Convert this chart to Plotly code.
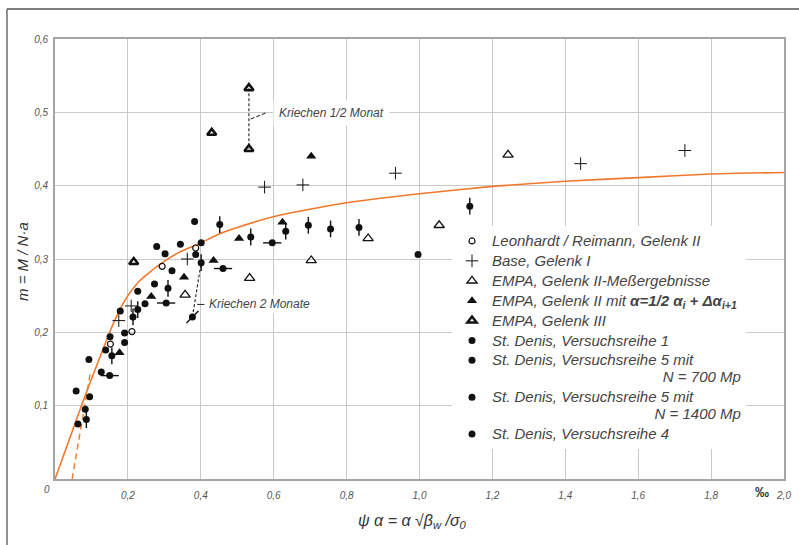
import plotly.graph_objects as go

# ---------------- data ----------------
leon_x = [0.152, 0.211, 0.294, 0.386]
leon_y = [0.184, 0.201, 0.290, 0.315]

base_x = [0.175, 0.209, 0.363, 0.575, 0.680, 0.934, 1.442, 1.728]
base_y = [0.216, 0.236, 0.300, 0.398, 0.401, 0.417, 0.430, 0.448]

empa_open_x = [0.357, 0.534, 0.703, 0.859, 1.054, 1.243]
empa_open_y = [0.251, 0.274, 0.298, 0.328, 0.346, 0.442]

empa_fill_x = [0.177, 0.264, 0.354, 0.435, 0.505, 0.624, 0.703]
empa_fill_y = [0.172, 0.249, 0.275, 0.298, 0.328, 0.350, 0.440]

empa3_x = [0.216, 0.430, 0.532, 0.532]
empa3_y = [0.296, 0.472, 0.533, 0.450]

sd1_x = [0.058, 0.063, 0.083, 0.093, 0.095, 0.127, 0.139, 0.151, 0.179, 0.191,
         0.191, 0.227, 0.247, 0.273, 0.279, 0.302, 0.321, 0.344, 0.383, 0.386,
         0.401, 0.996]
sd1_y = [0.120, 0.075, 0.095, 0.163, 0.112, 0.146, 0.176, 0.194, 0.229, 0.199,
         0.186, 0.256, 0.239, 0.266, 0.317, 0.307, 0.284, 0.320, 0.351, 0.306,
         0.322, 0.306]

sd5a_x = [0.150, 0.305, 0.461, 0.596]          # N = 700 Mp
sd5a_y = [0.141, 0.240, 0.287, 0.322]

sd5b_x = [0.086, 0.156, 0.214, 0.227, 0.310, 0.401, 0.452, 0.537, 0.633, 0.695,
          0.756, 0.834, 1.138]                 # N = 1400 Mp
sd5b_y = [0.081, 0.168, 0.221, 0.231, 0.260, 0.295, 0.347, 0.330, 0.338, 0.346,
          0.341, 0.343, 0.372]

sd4_x = [0.377]
sd4_y = [0.221]

curve_x = [0, 0.04, 0.08, 0.12, 0.16, 0.18, 0.20, 0.23, 0.28, 0.34, 0.40, 0.45,
           0.50, 0.61, 0.79, 1.0, 1.2, 1.4, 1.6, 1.8, 2.0]
curve_y = [0, 0.055, 0.110, 0.162, 0.212, 0.233, 0.250, 0.269, 0.290, 0.309,
           0.322, 0.334, 0.343, 0.359, 0.376, 0.389, 0.399, 0.406, 0.411, 0.416,
           0.418]

dash_x = [0.047, 0.097]
dash_y = [0.0, 0.145]

creep_half_x = [0.532, 0.532]
creep_half_y = [0.533, 0.450]
creep_two_x = [0.377, 0.401]
creep_two_y = [0.221, 0.295]

x_ticks = [0.2, 0.4, 0.6, 0.8, 1.0, 1.2, 1.4, 1.6, 1.8, 2.0]
x_labels = ["0,2", "0,4", "0,6", "0,8", "1,0", "1,2", "1,4", "1,6", "1,8", "2,0"]
y_ticks = [0.1, 0.2, 0.3, 0.4, 0.5, 0.6]
y_labels = ["0,1", "0,2", "0,3", "0,4", "0,5", "0,6"]

# ---------------- styling ----------------
FONT = "Liberation Sans"
INK = "#111111"
ORANGE = "#f0782d"
GRID = "#c9c9c9"
TXT = "#444444"

fig = go.Figure()

fig.add_trace(go.Scatter(x=curve_x, y=curve_y, mode="lines", showlegend=False,
                         line=dict(color=ORANGE, width=1.6, shape="spline", smoothing=0.5),
                         hoverinfo="skip"))
fig.add_trace(go.Scatter(x=dash_x, y=dash_y, mode="lines", showlegend=False,
                         line=dict(color=ORANGE, width=1.4, dash="6px,4px"),
                         hoverinfo="skip"))
fig.add_trace(go.Scatter(x=creep_half_x, y=creep_half_y, mode="lines", showlegend=False,
                         line=dict(color="#333", width=1.2, dash="3px,2px"), hoverinfo="skip"))
fig.add_trace(go.Scatter(x=creep_two_x, y=creep_two_y, mode="lines", showlegend=False,
                         line=dict(color="#333", width=1.2, dash="3px,2px"), hoverinfo="skip"))


def lg(s):
    return '<span style="font-size:15px">' + s + '</span>'


def pts(x, y, name, symbol, size, color=INK, lw=0, lc=INK, show=True, group=None):
    fig.add_trace(go.Scatter(
        x=x, y=y, mode="markers", name=name, showlegend=show,
        legendgroup=group or name,
        marker=dict(symbol=symbol, size=size, color=color,
                    line=dict(width=lw, color=lc))))


NB = "\u00a0"
pts(leon_x, leon_y, lg("Leonhardt / Reimann, Gelenk II"), "circle-open", 6, lw=1.2)
pts(base_x, base_y, lg("Base, Gelenk I"), "cross-thin-open", 9, lw=1.0, lc="#333")
pts(empa_open_x, empa_open_y, lg("EMPA, Gelenk II-Meßergebnisse"), "triangle-up-open", 9, lw=1.3)
pts(empa_fill_x, empa_fill_y,
    lg("EMPA, Gelenk II mit" + NB + "<b>α=1/2 α<sub>i</sub> + Δα<sub>i+1</sub></b>"),
    "triangle-up", 9)
pts(empa3_x, empa3_y, lg("EMPA, Gelenk III"), "triangle-up-open", 8, lw=2.5)
pts(sd1_x, sd1_y, lg("St. Denis, Versuchsreihe 1"), "circle", 7)

name5a = lg("St. Denis, Versuchsreihe 5 mit") + "<br>" + lg(NB * 41 + "N = 700 Mp")
name5b = lg("St. Denis, Versuchsreihe 5 mit") + "<br>" + lg(NB * 39 + "N = 1400 Mp")
pts(sd5a_x, sd5a_y, name5a, "circle", 7, group="5a")
pts(sd5a_x, sd5a_y, "", "line-ew-open", 13, lw=1.4, show=False, group="5a")
pts(sd5b_x, sd5b_y, name5b, "circle", 7, group="5b")
pts(sd5b_x, sd5b_y, "", "line-ns-open", 12, lw=1.4, show=False, group="5b")
pts(sd4_x, sd4_y, lg("St. Denis, Versuchsreihe 4"), "circle", 7, group="4")
pts(sd4_x, sd4_y, "", "line-ne-open", 12, lw=1.4, show=False, group="4")

W, H = 799, 545
ML, MR, MT, MB = 55, 15, 39, 66
PW, PH = W - ML - MR, H - MT - MB


def px(xp):
    return (xp - ML) / PW


def py(yp):
    return (H - MB - yp) / PH


tickfont = dict(family=FONT, size=10, color="#555", style="italic")

fig.update_layout(
    width=W, height=H,
    margin=dict(l=ML, r=MR, t=MT, b=MB),
    paper_bgcolor="white", plot_bgcolor="white",
    font=dict(family=FONT, color=TXT),
    xaxis=dict(range=[0, 2.0], tickvals=x_ticks, ticktext=x_labels, tickfont=tickfont,
               showgrid=True, gridcolor=GRID, gridwidth=1.4, zeroline=False,
               showline=True, linecolor="#a5a5a5", linewidth=1.6, mirror=True,
               ticks="", ticklabelstandoff=6, automargin=False),
    yaxis=dict(range=[0, 0.6], tickvals=y_ticks, ticktext=y_labels, tickfont=tickfont,
               showgrid=True, gridcolor=GRID, gridwidth=1.4, zeroline=False,
               showline=True, linecolor="#a5a5a5", linewidth=1.6, mirror=True,
               ticks="", ticklabelstandoff=3, automargin=False),
    legend=dict(x=px(452), y=py(226), xanchor="left", yanchor="top",
                bgcolor="white", borderwidth=0, valign="top",
                font=dict(family=FONT, size=13, color=TXT, style="italic"),
                tracegroupgap=0, itemclick=False),
    showlegend=True,
)

ann_font = dict(family=FONT, size=12, color=TXT, style="italic")
fig.add_annotation(x=0.598, y=0.499, xref="x", yref="y", text="Kriechen 1/2 Monat",
                   showarrow=False, xanchor="left", yanchor="middle", font=ann_font,
                   bgcolor="white", borderpad=5)
fig.add_annotation(x=0.413, y=0.238, xref="x", yref="y", text="Kriechen 2 Monate",
                   showarrow=False, xanchor="left", yanchor="middle", font=ann_font,
                   bgcolor="white", borderpad=2)
fig.add_shape(type="line", xref="x", yref="y", x0=0.537, y0=0.491, x1=0.578, y1=0.499,
              line=dict(color="#333", width=1.1, dash="4px,2px"))
fig.add_shape(type="line", xref="x", yref="y", x0=0.390, y0=0.238, x1=0.410, y1=0.238,
              line=dict(color="#333", width=1.1))

fig.add_annotation(xref="paper", yref="paper", x=px(412), y=py(521),
                   xanchor="center", yanchor="middle",
                   text="ψ α = α √β<sub>w</sub> /σ<sub>0</sub>", showarrow=False,
                   font=dict(family=FONT, size=16, color="#333", style="italic"))
fig.add_annotation(xref="paper", yref="paper", x=px(22), y=py(262), textangle=-90,
                   xanchor="center", yanchor="middle",
                   text="m = M / N·a", showarrow=False,
                   font=dict(family=FONT, size=15, color="#333", style="italic"))
fig.add_annotation(xref="paper", yref="paper", x=px(762), y=py(492), text="<b>‰</b>",
                   xanchor="center", yanchor="middle",
                   showarrow=False, font=dict(family=FONT, size=14, color="#333"))
fig.add_annotation(xref="paper", yref="paper", x=px(47), y=py(490), text="0",
                   xanchor="center", yanchor="middle",
                   showarrow=False, font=tickfont)

fig.add_shape(type="line", xref="paper", yref="paper", x0=px(7), y0=py(9), x1=px(800), y1=py(9),
              line=dict(color="#555", width=1.3))
fig.add_shape(type="line", xref="paper", yref="paper", x0=px(7), y0=py(9), x1=px(7), y1=py(546),
              line=dict(color="#555", width=1.3))

fig.write_html("out.html", config={"displayModeBar": False},
               post_script="document.body.style.margin='0';document.body.style.padding='0';")
